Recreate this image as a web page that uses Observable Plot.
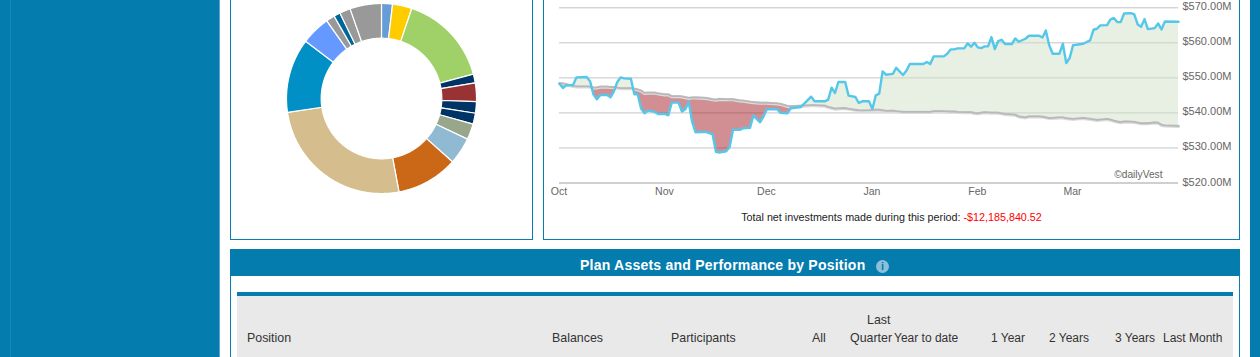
<!DOCTYPE html>
<html>
<head>
<meta charset="utf-8">
<script src="https://cdn.jsdelivr.net/npm/d3@7"></script>
<script src="https://cdn.jsdelivr.net/npm/@observablehq/plot@0.6"></script>
<style>
html,body{margin:0;padding:0;width:1260px;height:357px;overflow:hidden;background:#047cae;font-family:"Liberation Sans",Arial,sans-serif;}
#page{position:relative;width:1260px;height:357px;overflow:hidden;}
#page div,#page span.a{position:absolute;}
.sideline{top:0;height:357px;width:1px;}
#sheet{left:220px;top:0;width:1030px;height:357px;background:#fff;}
.panel{box-sizing:border-box;top:-10px;height:249.5px;border:1px solid #0680b2;background:#fff;}
#donut{left:286px;top:2.5px;}
#line{left:544px;top:0;}
#note{left:544px;width:695px;top:211px;text-align:center;font-size:10.75px;line-height:12px;color:#222;}
#note b{font-weight:normal;color:#f00;}
#head{left:230px;top:249px;width:1010px;height:27px;background:#047cae;color:#fff;}
#headtext{left:350px;top:8px;font-size:14px;line-height:16px;font-weight:bold;letter-spacing:.23px;white-space:nowrap;}
#info{left:646px;top:11px;width:13px;height:13px;border-radius:50%;background:#8cc0da;color:#047cae;font:bold 11px/13px "Liberation Sans",Arial,sans-serif;text-align:center;}
#tablebox{left:230px;top:276px;width:1010px;height:90px;box-sizing:border-box;border-left:1px solid #0680b2;border-right:1px solid #0680b2;background:#fff;}
#bar{left:237px;top:292px;width:996px;height:4px;background:#047cae;}
#grey{left:237px;top:296px;width:996px;height:61px;background:#e9e9e9;}
.th{font-size:12.4px;line-height:14px;color:#333;white-space:nowrap;}
.th.narrow{font-size:12px;}
</style>
</head>
<body>
<div id="page">
  <div class="sideline" style="left:10px;background:#1a88b5"></div>
  <div class="sideline" style="left:219px;background:#5aa9cc"></div>
  <div id="sheet"></div>
  <div class="panel" style="left:230px;width:303px"></div>
  <div class="panel" style="left:543px;width:697px"></div>
  <div id="donut"></div>
  <div id="line"></div>
  <div id="note"></div>
  <div id="tablebox"></div>
  <div id="head"><div id="headtext"></div><div id="info">i</div></div>
  <div id="bar"></div>
  <div id="grey"></div>
</div>
<script>
// ---- donut data (share of plan assets, %)
const sliceValues = [1.86,3.3,15.7,1.5,3.15,1.95,1.85,2.7,4.55,10.45,25.6,12.6,4.95,1.45,1.1,1.85,5.35];
const sliceColors = ["#659ed6","#ffcc00","#a0d168","#003366","#993333","#003366","#003366","#98a68c","#90b9d2","#ca6818","#d5bd8e","#0090c6","#6699ff","#999999","#006699","#999999","#999999"];

// ---- line chart data (days since 1 Oct, $ millions)
const days = [0,1,2,4,5,8,9,10,11,12,14,15,16,17,18,19,21,22,23,24,25,26,28,29,31,32,33,35,36,37,38,39,40,43,45,46,47,49,50,51,53,54,56,57,59,60,61,64,65,67,68,71,74,75,78,79,80,81,82,84,85,87,88,89,91,92,93,94,95,96,98,99,101,102,103,107,108,109,110,113,114,115,116,117,119,120,121,122,123,124,125,126,127,128,129,130,131,133,134,135,137,138,141,142,143,144,145,147,148,149,150,151,152,154,156,157,158,159,161,162,163,164,165,166,168,169,170,171,172,173,175,176,177,178,182];
const marketValue = [548.35,547.11,547.87,547.97,550.15,550.25,549.0,545.21,543.88,545.12,545.12,544.45,546.16,548.82,550.15,549.87,549.77,545.31,545.31,541.23,539.9,540.66,540.28,539.71,539.71,539.33,542.93,542.93,540.37,541.04,543.12,537.43,534.48,534.58,533.91,528.88,528.69,529.07,530.21,535.15,535.15,535.62,535.72,539.23,537.33,539.04,541.04,541.04,540.0,539.9,541.32,541.7,544.64,543.31,543.31,543.79,547.21,545.69,548.82,548.82,544.93,544.55,542.84,543.31,543.31,541.13,545.02,545.5,551.86,550.9,551.15,552.86,550.82,552.05,553.95,553.95,554.52,553.95,556.13,556.13,556.89,558.13,558.13,558.41,558.41,559.84,558.89,560.03,558.7,558.51,558.98,558.98,561.64,558.22,560.5,560.88,559.65,559.65,561.26,560.31,561.17,562.02,562.02,561.55,563.54,559.27,556.89,556.89,559.74,554.24,555.66,559.36,559.46,559.74,560.69,563.73,564.02,564.97,565.06,566.68,567.06,565.92,565.92,568.39,568.48,568.1,565.25,564.59,566.77,563.92,564.21,565.54,563.83,566.11,566.01];
const invested = [548.5,548.4,548.2,547.7,547.6,547.6,547.5,547.2,547.3,547.5,547.5,547.4,547.4,547.2,547.1,547.1,547.1,546.9,546.7,546.4,545.7,545.8,545.8,545.6,545.3,545.3,544.8,544.8,544.7,544.5,544.3,544.4,544.45,544.3,543.9,543.8,544.0,543.95,543.9,543.9,543.6,543.5,543.2,543.1,542.9,542.9,542.9,542.7,542.6,542.0,541.9,542.1,542.2,542.25,542.1,541.7,541.5,541.2,541.3,541.4,541.2,540.9,540.8,540.75,540.8,540.85,540.9,540.9,540.8,540.6,540.65,540.5,540.3,540.3,540.3,540.3,540.3,540.3,540.5,540.5,540.45,540.4,540.4,540.3,540.25,540.2,540.2,540.0,539.9,540.1,540.2,540.15,540.1,540.1,540.1,539.9,539.7,539.6,539.5,539.0,538.75,539.0,539.0,538.95,538.75,538.55,538.6,538.75,538.7,538.5,538.4,538.3,538.4,538.6,538.3,538.15,538.0,538.1,538.3,538.1,537.8,537.55,537.35,537.6,537.5,537.45,537.25,537.05,537.05,537.05,537.3,537.2,536.6,536.45,536.3];
const yTicks = [520,530,540,550,560,570];
const monthTicks = ["2014-10-01","2014-11-01","2014-12-01","2015-01-01","2015-02-01","2015-03-01"];

// ---- page text
const noteLabel = "Total net investments made during this period: ";
const noteValue = "-$12,185,840.52";
const tableTitle = "Plan Assets and Performance by Position";
const columnLabels = ["Position","Balances","Participants","All","Last","Quarter","Year to date","1 Year","2 Years","3 Years","Last Month"];
const narrowLabels = ["Year to date","1 Year","2 Years","3 Years","Last Month"];

// ---- donut: each slice outline comes from d3.pie, drawn through Plot's scales
const pie = d3.pie().sort(null)(sliceValues);
const innerR = 60/94.5, outerR = 1;
const slicePts = [];
pie.forEach((s,i) => {
  const n = Math.max(2, Math.ceil((s.endAngle - s.startAngle)/0.01));
  const ring = [];
  for (let k=0;k<=n;k++){ const a = s.startAngle+(s.endAngle-s.startAngle)*k/n; ring.push([outerR*Math.sin(a),outerR*Math.cos(a)]); }
  for (let k=n;k>=0;k--){ const a = s.startAngle+(s.endAngle-s.startAngle)*k/n; ring.push([innerR*Math.sin(a),innerR*Math.cos(a)]); }
  ring.push(ring[0]);
  ring.forEach(p => slicePts.push({x:p[0],y:p[1],i,color:sliceColors[i]}));
});
document.getElementById("donut").appendChild(Plot.plot({
  width:190,height:190,margin:0,
  x:{domain:[-1,1],axis:null},y:{domain:[-1,1],axis:null},
  marks:[Plot.line(slicePts,{x:"x",y:"y",z:"i",fill:"color",stroke:"white",strokeWidth:1.2,strokeLinejoin:"miter"})]
}));

// ---- line chart
const start = new Date(Date.UTC(2014,9,1));
const rows = days.map((d,i)=>({date:d3.utcDay.offset(start,d),value:marketValue[i],invested:invested[i]}));
if (days.length!==marketValue.length||days.length!==invested.length) throw new Error("length "+days.length+" "+marketValue.length+" "+invested.length);
const xFont = {fontFamily:'"Liberation Sans",Arial,sans-serif'};
document.getElementById("line").appendChild(Plot.plot({
  width:695,height:200,marginLeft:15,marginRight:61,marginTop:7.3,marginBottom:17.5,
  style:{background:"transparent",...xFont,overflow:"visible"},
  x:{type:"utc",domain:[start,d3.utcDay.offset(start,182)]},
  y:{domain:[520,570]},
  marks:[
    Plot.ruleY(yTicks.slice(1),{stroke:"#c4c4c4",strokeWidth:1}),
    Plot.ruleY([520],{stroke:"#a0a0a0",strokeWidth:1}),
    Plot.differenceY(rows,{x:"date",y1:"invested",y2:"value",
      positiveFill:"#d1dfc7",negativeFill:"#a51f27",positiveFillOpacity:.5,negativeFillOpacity:.5,stroke:"none"}),
    Plot.lineY(rows,{x:"date",y:"invested",stroke:"#dcdcdc",strokeWidth:3.2,dy:.5}),
    Plot.lineY(rows,{x:"date",y:"invested",stroke:"#b8b8b8",strokeWidth:1.8}),
    Plot.lineY(rows,{x:"date",y:"value",stroke:"#55c8ea",strokeWidth:2.4,strokeLinejoin:"round"}),
    Plot.axisY(yTicks,{anchor:"right",tickSize:0,tickPadding:4,label:null,fontSize:11,fill:"#666",
      tickFormat:d=>"$"+d.toFixed(2)+"M",dy:-1}),
    Plot.axisX(monthTicks.map(s=>new Date(s+"T00:00:00Z")),{tickSize:0,tickPadding:5,label:null,fontSize:10.5,fill:"#666",
      tickFormat:d3.utcFormat("%b"),dx:-.5}),
    Plot.text(["©dailyVest"],{frameAnchor:"bottom-right",dx:-16,dy:-5,fontSize:10.2,fill:"#666",letterSpacing:"0.3px"})
  ]
}));

// ---- html text
document.getElementById("note").innerHTML = noteLabel + "<b>" + noteValue + "</b>";
document.getElementById("headtext").textContent = tableTitle;
const pg = document.getElementById("page");
const colLeft = [247,552,671,812,867,850,894,991,1049,1115,1163];
columnLabels.forEach((t,i)=>{
  const s=document.createElement("div");
  s.className="th"+(narrowLabels.includes(t)?" narrow":"");
  s.textContent=t;
  s.style.left=colLeft[i]+"px"; s.style.top=(t==="Last"?313:331)+"px"; pg.appendChild(s);
});
</script>
</body>
</html>
